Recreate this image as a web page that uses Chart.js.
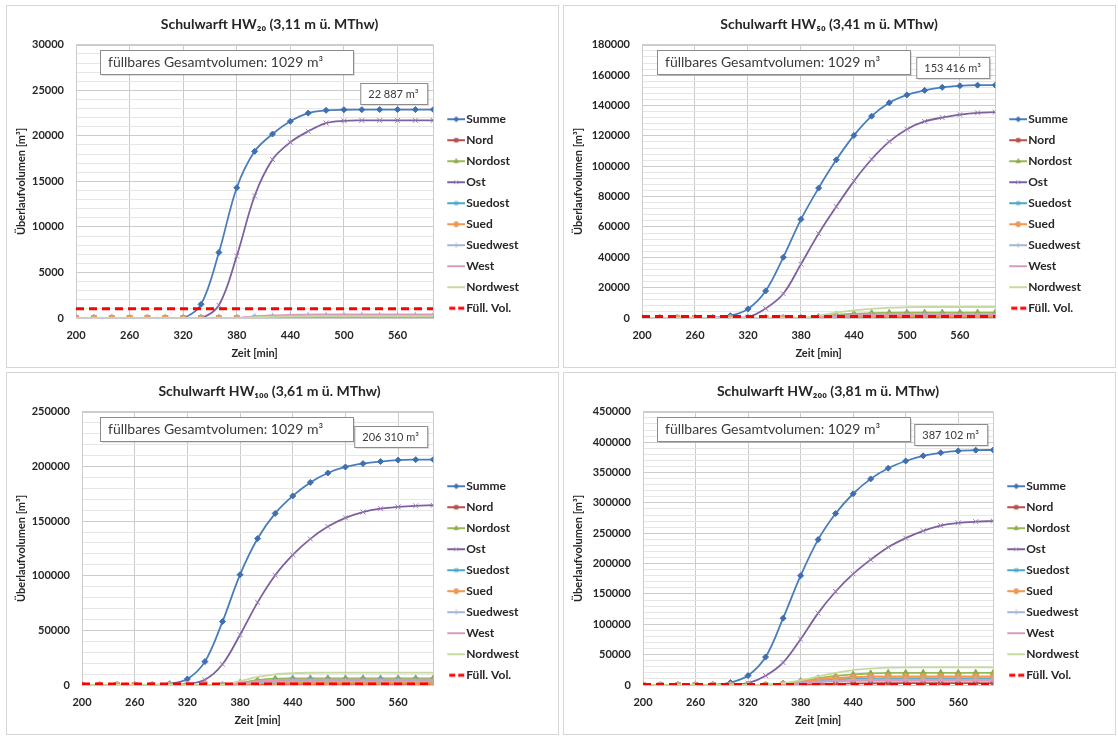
<!DOCTYPE html>
<html>
<head>
<meta charset="utf-8">
<script src="https://cdn.jsdelivr.net/npm/chart.js@4.4.1/dist/chart.umd.min.js"></script>
<style>
  html, body { margin: 0; padding: 0; background: #ffffff; }
  body { width: 1118px; height: 736px; position: relative; overflow: hidden; }
  .panel { position: absolute; width: 551px; height: 361px; border: 1px solid #d6d6d6; background: #fff; }
  .panel canvas { position: absolute; left: 0; top: 0; }
</style>
</head>
<body>
<div class="panel" style="left:6px; top:5px;"><canvas id="c20" width="551" height="361"></canvas></div>
<div class="panel" style="left:563px; top:5px;"><canvas id="c50" width="551" height="361"></canvas></div>
<div class="panel" style="left:6px; top:372px;"><canvas id="c100" width="551" height="361"></canvas></div>
<div class="panel" style="left:563px; top:372px;"><canvas id="c200" width="551" height="361"></canvas></div>
<script>
// Zeitachse [min]
const zeit = [200, 220, 240, 260, 280, 300, 320, 340, 360, 380, 400, 420, 440, 460, 480, 500, 520, 540, 560, 580, 600];
const zeitTicks = [200, 260, 320, 380, 440, 500, 560];

const serienNamen = ['Summe', 'Nord', 'Nordost', 'Ost', 'Suedost', 'Sued', 'Suedwest', 'West', 'Nordwest', 'Füll. Vol.'];

// füllbares Gesamtvolumen [m³]
const fuellVol = [1029, 1029, 1029, 1029, 1029, 1029, 1029, 1029, 1029, 1029, 1029, 1029, 1029, 1029, 1029, 1029, 1029, 1029, 1029, 1029, 1029];

// HW20 (3,11 m ü. MThw)
const hw20Summe    = [0, 0, 0, 0, 0, 0, 0, 1500, 7200, 14300, 18300, 20200, 21600, 22500, 22800, 22870, 22880, 22885, 22887, 22887, 22887];
const hw20Nord     = [0, 0, 0, 0, 0, 0, 0, 0, 0, 0, 0, 0, 0, 0, 0, 0, 0, 0, 0, 0, 0];
const hw20Nordost  = [0, 0, 0, 0, 0, 0, 0, 0, 0, 0, 40, 70, 90, 100, 100, 100, 100, 100, 100, 100, 100];
const hw20Ost      = [0, 0, 0, 0, 0, 0, 0, 0, 1400, 6800, 13400, 17400, 19300, 20500, 21400, 21650, 21700, 21700, 21700, 21700, 21700];
const hw20Suedost  = [0, 0, 0, 0, 0, 0, 0, 0, 0, 0, 60, 100, 130, 150, 150, 150, 150, 150, 150, 150, 150];
const hw20Sued     = [0, 0, 0, 0, 0, 0, 0, 0, 0, 0, 0, 0, 0, 0, 0, 0, 0, 0, 0, 0, 0];
const hw20Suedwest = [0, 0, 0, 0, 0, 0, 0, 0, 0, 0, 120, 200, 250, 280, 300, 300, 300, 300, 300, 300, 300];
const hw20West     = [0, 0, 0, 0, 0, 0, 0, 0, 0, 0, 180, 280, 340, 380, 400, 400, 400, 400, 400, 400, 400];
const hw20Nordwest = [0, 0, 0, 0, 0, 0, 0, 0, 0, 0, 80, 130, 170, 190, 200, 200, 200, 200, 200, 200, 200];

// HW50 (3,41 m ü. MThw)
const hw50Summe    = [0, 0, 0, 0, 0, 1500, 6000, 17800, 40000, 65000, 85600, 104200, 120300, 133000, 141800, 147000, 150000, 152000, 153000, 153400, 153416];
const hw50Nord     = [0, 0, 0, 0, 0, 0, 0, 0, 0, 0, 100, 250, 350, 420, 470, 500, 500, 500, 500, 500, 500];
const hw50Nordost  = [0, 0, 0, 0, 0, 0, 0, 0, 0, 0, 800, 2000, 2800, 3200, 3400, 3500, 3500, 3500, 3500, 3500, 3500];
const hw50Ost      = [0, 0, 0, 0, 0, 0, 600, 6300, 16000, 35500, 55600, 73400, 90200, 104600, 116200, 124400, 129500, 132000, 134000, 135200, 135600];
const hw50Suedost  = [0, 0, 0, 0, 0, 0, 0, 0, 0, 0, 300, 800, 1100, 1300, 1400, 1500, 1500, 1500, 1500, 1500, 1500];
const hw50Sued     = [0, 0, 0, 0, 0, 0, 0, 0, 0, 0, 200, 500, 750, 900, 950, 1000, 1000, 1000, 1000, 1000, 1000];
const hw50Suedwest = [0, 0, 0, 0, 0, 0, 0, 0, 0, 0, 400, 1100, 1500, 1800, 1900, 2000, 2000, 2000, 2000, 2000, 2000];
const hw50West     = [0, 0, 0, 0, 0, 0, 0, 0, 0, 0, 500, 1400, 1900, 2200, 2400, 2500, 2500, 2500, 2500, 2500, 2500];
const hw50Nordwest = [0, 0, 0, 0, 0, 0, 0, 0, 0, 0, 1500, 3500, 5000, 6000, 6800, 7100, 7250, 7250, 7250, 7250, 7250];

// HW100 (3,61 m ü. MThw)
const hw100Summe    = [0, 0, 0, 0, 0, 1200, 5500, 21400, 58000, 101000, 134000, 157000, 173000, 185400, 194000, 199500, 202600, 204500, 205800, 206200, 206310];
const hw100Nord     = [0, 0, 0, 0, 0, 0, 0, 0, 0, 300, 700, 900, 1000, 1000, 1000, 1000, 1000, 1000, 1000, 1000, 1000];
const hw100Nordost  = [0, 0, 0, 0, 0, 0, 0, 0, 0, 2000, 4500, 5800, 6100, 6100, 6100, 6100, 6100, 6100, 6100, 6100, 6100];
const hw100Ost      = [0, 0, 0, 0, 0, 0, 1000, 4800, 19000, 46000, 75600, 100400, 119000, 133700, 145000, 153000, 158300, 161400, 163000, 164000, 164500];
const hw100Suedost  = [0, 0, 0, 0, 0, 0, 0, 0, 0, 1500, 3000, 4000, 4400, 4500, 4500, 4500, 4500, 4500, 4500, 4500, 4500];
const hw100Sued     = [0, 0, 0, 0, 0, 0, 0, 0, 0, 600, 1400, 1800, 2000, 2000, 2000, 2000, 2000, 2000, 2000, 2000, 2000];
const hw100Suedwest = [0, 0, 0, 0, 0, 0, 0, 0, 0, 1000, 2500, 3200, 3500, 3500, 3500, 3500, 3500, 3500, 3500, 3500, 3500];
const hw100West     = [0, 0, 0, 0, 0, 0, 0, 0, 0, 1500, 3500, 4500, 4900, 5000, 5000, 5000, 5000, 5000, 5000, 5000, 5000];
const hw100Nordwest = [0, 0, 0, 0, 0, 0, 0, 0, 0, 3500, 7500, 9800, 10800, 11200, 11300, 11300, 11300, 11300, 11300, 11300, 11300];

// HW200 (3,81 m ü. MThw)
const hw200Summe    = [0, 0, 0, 0, 500, 4000, 15500, 46000, 110000, 180000, 239500, 282500, 315000, 339500, 357000, 369000, 377500, 382500, 385500, 386800, 387102];
const hw200Nord     = [0, 0, 0, 0, 0, 0, 0, 0, 300, 900, 1600, 2200, 2600, 2800, 3000, 3000, 3000, 3000, 3000, 3000, 3000];
const hw200Nordost  = [0, 0, 0, 0, 0, 0, 0, 0, 2500, 6500, 11000, 15000, 17500, 19000, 20000, 20000, 20000, 20000, 20000, 20000, 20000];
const hw200Ost      = [0, 0, 0, 0, 0, 0, 3000, 15400, 37000, 75500, 118400, 154000, 183000, 206500, 227000, 242000, 254000, 262700, 267000, 269000, 270000];
const hw200Suedost  = [0, 0, 0, 0, 0, 0, 0, 0, 1000, 4000, 7000, 9000, 10500, 11000, 11000, 11000, 11000, 11000, 11000, 11000, 11000];
const hw200Sued     = [0, 0, 0, 0, 0, 0, 0, 0, 1500, 5000, 8500, 11500, 13000, 14000, 14000, 14000, 14000, 14000, 14000, 14000, 14000];
const hw200Suedwest = [0, 0, 0, 0, 0, 0, 0, 0, 800, 3000, 5500, 7500, 8500, 9000, 9000, 9000, 9000, 9000, 9000, 9000, 9000];
const hw200West     = [0, 0, 0, 0, 0, 0, 0, 0, 600, 2500, 4500, 6000, 6800, 7000, 7000, 7000, 7000, 7000, 7000, 7000, 7000];
const hw200Nordwest = [0, 0, 0, 0, 0, 0, 0, 0, 3000, 8000, 14000, 20000, 24500, 27000, 28500, 29000, 29000, 29000, 29000, 29000, 29000];

// Darstellung der Reihen (Farbe, Marker)
const stile = [
  { line: '#4a7ebb', point: 'rectRot',  radius: 3,   fill: '#3e6fb0', stroke: '#3e6fb0' },
  { line: '#be4b48', point: 'rect',     radius: 3,   fill: '#b4504d', stroke: '#b4504d' },
  { line: '#98b954', point: 'triangle', radius: 3.5, fill: '#8aab4a', stroke: '#8aab4a' },
  { line: '#7d60a0', point: 'crossRot', radius: 3.5, fill: '#a07ab4', stroke: '#a07ab4' },
  { line: '#46aac5', point: 'star',     radius: 3.5, fill: '#46aac5', stroke: '#46aac5' },
  { line: '#f79646', point: 'circle',   radius: 3,   fill: '#e89a5a', stroke: '#e89a5a' },
  { line: '#a5b5d9', point: 'cross',    radius: 3.5, fill: '#a5b5d9', stroke: '#a5b5d9' },
  { line: '#d99ac0', point: false,      radius: 0,   fill: '#d99ac0', stroke: '#d99ac0' },
  { line: '#c6d9a0', point: false,      radius: 0,   fill: '#c6d9a0', stroke: '#c6d9a0' },
  { line: '#ff0000', point: false,      radius: 0,   fill: '#ff0000', stroke: '#ff0000', dash: [8, 5], width: 3 }
];

const FONT = 'Lato';
const TEXT = '#262626';

// Legendensymbol: kurze Linie mit Marker in der Mitte (linker Teil bleibt frei)
function legendenSymbol(s) {
  const c = document.createElement('canvas');
  c.width = 28; c.height = 12;
  const ctx = c.getContext('2d');
  ctx.strokeStyle = s.line;
  ctx.lineWidth = s.width || 2;
  if (s.dash) ctx.setLineDash([6, 3]);
  ctx.beginPath();
  ctx.moveTo(s.dash ? 12 : 10, 6); ctx.lineTo(28, 6); ctx.stroke();
  ctx.setLineDash([]);
  if (s.point) {
    ctx.fillStyle = s.fill; ctx.strokeStyle = s.stroke; ctx.lineWidth = 1;
    Chart.helpers.drawPoint(ctx, { pointStyle: s.point, radius: 2.5, rotation: 0, borderWidth: 1 }, 19, 6);
  }
  return c;
}
const symbole = stile.map(legendenSymbol);

// Textkästen im Diagramm
const kastenPlugin = {
  id: 'kaesten',
  afterDatasetsDraw(chart, args, opts) {
    const ctx = chart.ctx;
    const area = chart.chartArea;
    function kasten(x, y, w, h, text, size) {
      ctx.save();
      ctx.fillStyle = 'rgba(0,0,0,0.12)';
      ctx.fillRect(x + 2, y + 2, w, h);
      ctx.fillStyle = '#ffffff';
      ctx.fillRect(x, y, w, h);
      ctx.strokeStyle = '#8c8c8c';
      ctx.lineWidth = 1;
      ctx.strokeRect(x + 0.5, y + 0.5, w, h);
      ctx.fillStyle = '#3a3a3a';
      ctx.font = size + 'px ' + FONT;
      ctx.textBaseline = 'middle';
      ctx.fillText(text, x + 8, y + h / 2 + 0.5);
      ctx.restore();
    }
    kasten(93, 44, 253, 24, 'füllbares Gesamtvolumen: 1029 m³', 14);
    ctx.save();
    ctx.font = '11px ' + FONT;
    const w = Math.ceil(ctx.measureText(opts.summe).width) + 16;
    ctx.restore();
    kasten(area.right - 6 - w, opts.top, w, 21, opts.summe, 11);
  }
};

// Rahmen der Zeichenfläche
const rahmenPlugin = {
  id: 'rahmen',
  beforeDatasetsDraw(chart) {
    const a = chart.chartArea, ctx = chart.ctx;
    ctx.save();
    ctx.strokeStyle = '#cccccc';
    ctx.lineWidth = 1;
    ctx.strokeRect(Math.round(a.left) + 0.5, Math.round(a.top) + 0.5, Math.round(a.right - a.left), Math.round(a.bottom - a.top));
    ctx.restore();
  }
};

function diagramm(id, titel, reihen, yMax, yStep, summeText, summeTop, yBreite, rechts) {
  const minor = yStep / 5;
  const datasets = reihen.map((werte, i) => {
    const s = stile[i];
    return {
      label: serienNamen[i],
      data: zeit.map((x, k) => ({ x: x, y: werte[k] })),
      borderColor: s.line,
      backgroundColor: s.fill,
      borderWidth: s.width || 1.8,
      borderDash: s.dash || [],
      pointStyle: s.point || 'circle',
      pointRadius: s.radius,
      pointBackgroundColor: s.fill,
      pointBorderColor: s.stroke,
      pointBorderWidth: 1,
      tension: s.dash ? 0 : 0.35,
      order: 20 - i
    };
  });
  return new Chart(document.getElementById(id), {
    type: 'line',
    data: { datasets },
    options: {
      responsive: false,
      animation: false,
      devicePixelRatio: 1,
      layout: { padding: { left: 3, right: rechts, top: 0, bottom: 3 } },
      scales: {
        x: {
          type: 'linear',
          min: 200, max: 600,
          afterBuildTicks: (ax) => { ax.ticks = zeitTicks.map(v => ({ value: v })); },
          afterFit: (ax) => { ax.height = 46; },
          grid: { color: '#cccccc', drawTicks: false },
          border: { display: false },
          ticks: { padding: 11, color: TEXT, font: { family: FONT, weight: 'bold', size: 11 }, callback: v => String(v) },
          title: { display: true, text: 'Zeit [min]', color: TEXT, font: { family: FONT, weight: 'bold', size: 11 }, padding: { top: 4, bottom: 4.4 } }
        },
        y: {
          min: 0, max: yMax,
          afterBuildTicks: (ax) => {
            const t = [];
            for (let v = 0; v <= yMax; v += minor) t.push({ value: v });
            ax.ticks = t;
          },
          afterFit: (ax) => { ax.width = yBreite; },
          grid: {
            drawTicks: false,
            color: (c) => (c.tick && c.tick.value % yStep === 0) ? '#cccccc' : '#e6e6e6'
          },
          border: { display: false },
          ticks: {
            padding: 12, color: TEXT, autoSkip: false,
            font: { family: FONT, weight: 'bold', size: 11 },
            callback: (v) => (v % yStep === 0) ? String(v) : ''
          },
          title: { display: true, text: 'Überlaufvolumen [m³]', color: TEXT, font: { family: FONT, weight: 'bold', size: 11 }, padding: { top: 4.4, bottom: 2 } }
        }
      },
      plugins: {
        title: { display: true, text: titel, color: TEXT, font: { family: FONT, weight: 'bold', size: 14 }, padding: { top: 10, bottom: 12 } },
        tooltip: { enabled: false },
        legend: {
          position: 'right',
          align: 'center',
          title: { display: true, text: '', font: { size: 10 }, padding: { top: 45.4, bottom: 0 } },
          labels: {
            usePointStyle: true,
            pointStyleWidth: 18,
            color: TEXT,
            font: { family: FONT, weight: 'bold', size: 12 },
            padding: 9,
            sort: (a, b) => a.datasetIndex - b.datasetIndex,
            generateLabels: (chart) => Chart.defaults.plugins.legend.labels.generateLabels(chart).map(it => {
              it.pointStyle = symbole[it.datasetIndex];
              it.rotation = 0;
              return it;
            })
          }
        },
        kaesten: { summe: summeText, top: summeTop }
      }
    },
    plugins: [rahmenPlugin, kastenPlugin]
  });
}

diagramm('c20', 'Schulwarft HW₂₀ (3,11 m ü. MThw)',
  [hw20Summe, hw20Nord, hw20Nordost, hw20Ost, hw20Suedost, hw20Sued, hw20Suedwest, hw20West, hw20Nordwest, fuellVol],
  30000, 5000, '22 887 m³', 77, 66, 29);
diagramm('c50', 'Schulwarft HW₅₀ (3,41 m ü. MThw)',
  [hw50Summe, hw50Nord, hw50Nordost, hw50Ost, hw50Suedost, hw50Sued, hw50Suedwest, hw50West, hw50Nordwest, fuellVol],
  180000, 20000, '153 416 m³', 51, 75, 24);
diagramm('c100', 'Schulwarft HW₁₀₀ (3,61 m ü. MThw)',
  [hw100Summe, hw100Nord, hw100Nordost, hw100Ost, hw100Suedost, hw100Sued, hw100Suedwest, hw100West, hw100Nordwest, fuellVol],
  250000, 50000, '206 310 m³', 53, 72, 29);
diagramm('c200', 'Schulwarft HW₂₀₀ (3,81 m ü. MThw)',
  [hw200Summe, hw200Nord, hw200Nordost, hw200Ost, hw200Suedost, hw200Sued, hw200Suedwest, hw200West, hw200Nordwest, fuellVol],
  450000, 50000, '387 102 m³', 51, 76, 26);
</script>
</body>
</html>
